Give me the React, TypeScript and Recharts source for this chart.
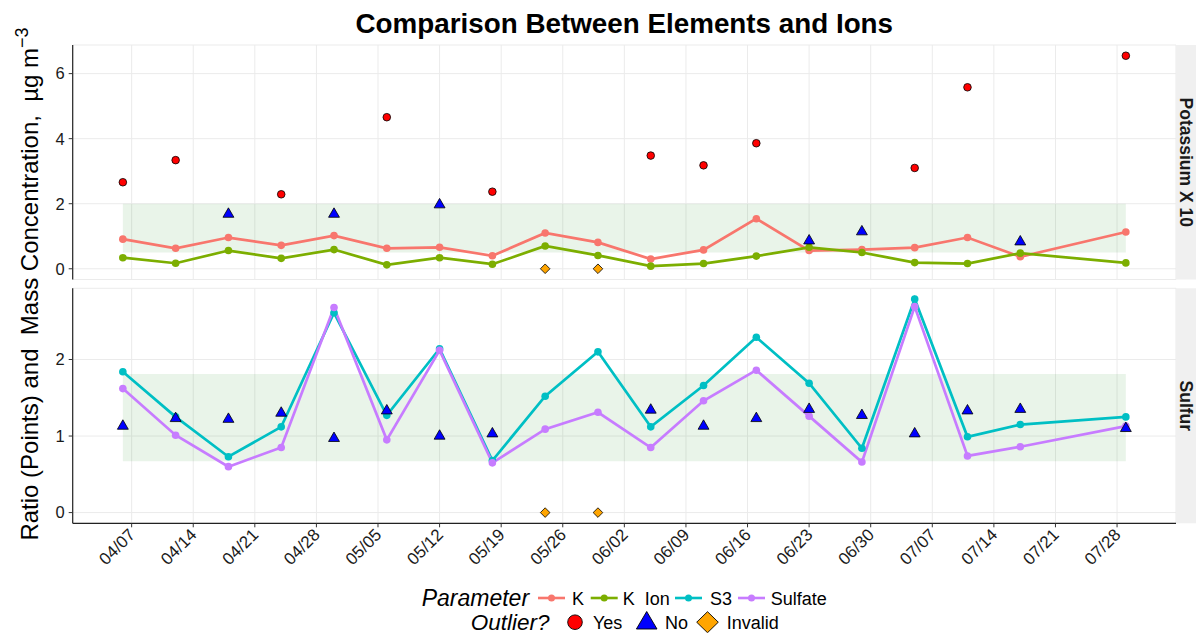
import React from 'react';
import { ComposedChart, Line, Scatter, XAxis, YAxis, CartesianGrid, ReferenceArea } from 'recharts';

// sample dates (every 6 days, 07/23 missing)
const sampleDates = ['04/06', '04/12', '04/18', '04/24', '04/30', '05/06', '05/12', '05/18', '05/24', '05/30', '06/05', '06/11', '06/17', '06/23', '06/29', '07/05', '07/11', '07/17', '07/29'];

// Potassium X 10 panel
const kValues = [0.91, 0.63, 0.96, 0.72, 1.02, 0.63, 0.66, 0.40, 1.10, 0.81, 0.30, 0.58, 1.54, 0.56, 0.59, 0.65, 0.96, 0.37, 1.13];
const kIonValues = [0.34, 0.17, 0.56, 0.32, 0.59, 0.12, 0.34, 0.14, 0.70, 0.41, 0.08, 0.16, 0.39, 0.66, 0.50, 0.19, 0.16, 0.48, 0.18];
const kRatio = [2.66, 3.34, 1.68, 2.29, 1.68, 4.66, 1.97, 2.37, 0, 0, 3.48, 3.18, 3.86, 0.86, 1.14, 3.10, 5.58, 0.83, 6.55];
const kOutlier = ['Yes', 'Yes', 'No', 'Yes', 'No', 'Yes', 'No', 'Yes', 'Invalid', 'Invalid', 'Yes', 'Yes', 'Yes', 'No', 'No', 'Yes', 'Yes', 'No', 'Yes'];

// Sulfur panel
const s3Values = [1.84, 1.25, 0.73, 1.12, 2.61, 1.27, 2.14, 0.68, 1.52, 2.10, 1.12, 1.66, 2.29, 1.69, 0.84, 2.79, 0.99, 1.15, 1.25];
const sulfateValues = [1.62, 1.01, 0.60, 0.85, 2.68, 0.95, 2.12, 0.65, 1.09, 1.31, 0.85, 1.46, 1.86, 1.26, 0.66, 2.69, 0.74, 0.86, 1.13];
const sRatio = [1.13, 1.23, 1.22, 1.30, 0.97, 1.33, 1.00, 1.03, 0, 0, 1.34, 1.13, 1.23, 1.35, 1.27, 1.03, 1.33, 1.35, 1.10];
const sOutlier = ['No', 'No', 'No', 'No', 'No', 'No', 'No', 'No', 'Invalid', 'Invalid', 'No', 'No', 'No', 'No', 'No', 'No', 'No', 'No', 'No'];

// acceptable ranges (shaded)
const kBand = [0.5, 2.0];
const sBand = [0.67, 1.81];

const tickLabels = ['04/07', '04/14', '04/21', '04/28', '05/05', '05/12', '05/19', '05/26', '06/02', '06/09', '06/16', '06/23', '06/30', '07/07', '07/14', '07/21', '07/28'];

const COLORS = { K: '#F8766D', KIon: '#7CAE00', S3: '#00BFC4', Sulfate: '#C77CFF' };
const FONT = '"Liberation Sans", Arial, Helvetica, sans-serif';

const monthStart: Record<string, number> = { '04': 0, '05': 30, '06': 61, '07': 91, '08': 122 };
const dayOf = (d: string) => monthStart[d.slice(0, 2)] + Number(d.slice(3)) - 6;

const tickDays = tickLabels.map(dayOf);
const firstDay = dayOf(sampleDates[0]);
const lastDay = dayOf(sampleDates[sampleDates.length - 1]);
const pad = (lastDay - firstDay) * 0.05;
const xDomain = [firstDay - pad, lastDay + pad];
const labelOf = (d: number) => tickLabels[tickDays.indexOf(d)] ?? '';

const series = (vals: number[]) => sampleDates.map((d, i) => ({ x: dayOf(d), y: vals[i] }));
const outliers = (vals: number[], flags: string[], flag: string) =>
  sampleDates.map((d, i) => ({ x: dayOf(d), y: vals[i], flag: flags[i] })).filter((p) => p.flag === flag);

const Circle = (props: any) => (
  <circle cx={props.cx} cy={props.cy} r={3.8} fill="#FF0000" stroke="#000" strokeWidth={0.8} />
);
const Triangle = (props: any) => {
  const { cx, cy } = props;
  const r = 6.3;
  return (
    <polygon
      points={`${cx},${cy - r} ${cx + r * 0.866},${cy + r / 2} ${cx - r * 0.866},${cy + r / 2}`}
      fill="#0000FF"
      stroke="#000"
      strokeWidth={0.8}
    />
  );
};
const Diamond = (props: any) => {
  const { cx, cy } = props;
  const r = 4.8;
  return (
    <polygon
      points={`${cx},${cy - r} ${cx + r},${cy} ${cx},${cy + r} ${cx - r},${cy}`}
      fill="#FFA500"
      stroke="#000"
      strokeWidth={0.8}
    />
  );
};

// rotated date labels, top-right corner at the tick
const DateTick = (props: any) => {
  const { x, y, payload } = props;
  const ax = x - 4;
  const ay = y - 2;
  return (
    <text
      x={ax}
      y={ay}
      dy="0.71em"
      textAnchor="end"
      transform={`rotate(-45 ${ax} ${ay})`}
      fontSize={17}
      fontFamily={FONT}
      fill="#1a1a1a"
    >
      {labelOf(payload.value)}
    </text>
  );
};

const lineProps = (color: string) => ({
  type: 'linear' as const,
  dataKey: 'y',
  stroke: color,
  strokeWidth: 2.7,
  dot: { r: 3.8, fill: color, stroke: color, strokeWidth: 0 },
  activeDot: false as const,
  isAnimationActive: false,
});

const gridColor = '#EBEBEB';
const bandFill = '#008000';
const tickStyle = { fontSize: 16.5, fontFamily: FONT, fill: '#1a1a1a' };

const App: React.FC = () => {
  return (
    <div style={{ position: 'absolute', left: 0, top: 0, width: 1196, height: 633, background: '#fff', overflow: 'hidden' }}>
      {/* top panel: Potassium X 10 */}
      <div style={{ position: 'absolute', left: 0, top: 0 }}>
        <ComposedChart width={1196} height={633} margin={{ top: 45, right: 20, bottom: 353.5, left: 0 }}>
          <CartesianGrid stroke={gridColor} strokeWidth={1} />
          <XAxis type="number" dataKey="x" domain={xDomain} ticks={tickDays} allowDataOverflow hide interval={0} />
          <YAxis
            type="number"
            domain={[-0.33, 6.88]}
            ticks={[0, 2, 4, 6]}
            allowDataOverflow
            width={72.7}
            tick={tickStyle}
            tickSize={4}
            tickMargin={4}
            axisLine={{ stroke: '#222', strokeWidth: 1.2 }}
            tickLine={{ stroke: '#333' }}
          />
          <ReferenceArea x1={firstDay} x2={lastDay} y1={kBand[0]} y2={kBand[1]} fill={bandFill} fillOpacity={0.085} stroke="none" />
          <Line data={series(kValues)} name="K" {...lineProps(COLORS.K)} />
          <Line data={series(kIonValues)} name="K  Ion" {...lineProps(COLORS.KIon)} />
          <Scatter data={outliers(kRatio, kOutlier, 'Yes')} dataKey="y" shape={Circle} isAnimationActive={false} />
          <Scatter data={outliers(kRatio, kOutlier, 'No')} dataKey="y" shape={Triangle} isAnimationActive={false} />
          <Scatter data={outliers(kRatio, kOutlier, 'Invalid')} dataKey="y" shape={Diamond} isAnimationActive={false} />
        </ComposedChart>
      </div>

      {/* bottom panel: Sulfur */}
      <div style={{ position: 'absolute', left: 0, top: 0 }}>
        <ComposedChart width={1196} height={633} margin={{ top: 288.3, right: 20, bottom: 79.7, left: 0 }}>
          <CartesianGrid stroke={gridColor} strokeWidth={1} />
          <XAxis
            type="number"
            dataKey="x"
            domain={xDomain}
            ticks={tickDays}
            allowDataOverflow
            interval={0}
            height={30}
            tick={<DateTick />}
            tickSize={4}
            tickMargin={2}
            axisLine={{ stroke: '#222', strokeWidth: 1.2 }}
            tickLine={{ stroke: '#333' }}
          />
          <YAxis
            type="number"
            domain={[-0.14, 2.93]}
            ticks={[0, 1, 2]}
            allowDataOverflow
            width={72.7}
            tick={tickStyle}
            tickSize={4}
            tickMargin={4}
            axisLine={{ stroke: '#222', strokeWidth: 1.2 }}
            tickLine={{ stroke: '#333' }}
          />
          <ReferenceArea x1={firstDay} x2={lastDay} y1={sBand[0]} y2={sBand[1]} fill={bandFill} fillOpacity={0.085} stroke="none" />
          <Line data={series(s3Values)} name="S3" {...lineProps(COLORS.S3)} />
          <Line data={series(sulfateValues)} name="Sulfate" {...lineProps(COLORS.Sulfate)} />
          <Scatter data={outliers(sRatio, sOutlier, 'Yes')} dataKey="y" shape={Circle} isAnimationActive={false} />
          <Scatter data={outliers(sRatio, sOutlier, 'No')} dataKey="y" shape={Triangle} isAnimationActive={false} />
          <Scatter data={outliers(sRatio, sOutlier, 'Invalid')} dataKey="y" shape={Diamond} isAnimationActive={false} />
        </ComposedChart>
      </div>

      {/* titles, strips and legend */}
      <svg width={1196} height={633} style={{ position: 'absolute', left: 0, top: 0, pointerEvents: 'none' }} fontFamily={FONT}>
        <text x={624.3} y={33} textAnchor="middle" fontSize={27.8} fontWeight="bold" fill="#000">
          Comparison Between Elements and Ions
        </text>
        <text
          x={38.3}
          y={284}
          textAnchor="middle"
          fontSize={24}
          fill="#000"
          transform="rotate(-90 38.3 284)"
          style={{ whiteSpace: 'pre' }}
        >
          {'Ratio (Points) and  Mass Concentration,  µg m'}
          <tspan dy="-0.55em" fontSize={18}>−3</tspan>
        </text>

        <rect x={1176} y={45} width={22} height={234.5} fill="#F0F0F0" />
        <text x={1180} y={162.3} textAnchor="middle" fontSize={17.5} fontWeight="bold" fill="#1a1a1a" transform="rotate(90 1180 162.3)">
          Potassium X 10
        </text>
        <rect x={1176} y={288.3} width={22} height={235} fill="#F0F0F0" />
        <text x={1180} y={405.8} textAnchor="middle" fontSize={17.5} fontWeight="bold" fill="#1a1a1a" transform="rotate(90 1180 405.8)">
          Sulfur
        </text>

        {/* legend row 1 */}
        <text x={421.7} y={606} fontSize={23} fontStyle="italic" fill="#000">Parameter</text>
        {[
          { key: 538, text: 572, label: 'K', color: COLORS.K },
          { key: 590.7, text: 622.7, label: 'K  Ion', color: COLORS.KIon },
          { key: 675, text: 710, label: 'S3', color: COLORS.S3 },
          { key: 738, text: 770.7, label: 'Sulfate', color: COLORS.Sulfate },
        ].map((d) => (
          <g key={d.label}>
            <line x1={d.key} x2={d.key + 27} y1={598} y2={598} stroke={d.color} strokeWidth={2.6} />
            <circle cx={d.key + 13.5} cy={598} r={3.5} fill={d.color} />
            <text x={d.text} y={604.5} fontSize={18} fill="#000" style={{ whiteSpace: 'pre' }}>{d.label}</text>
          </g>
        ))}

        {/* legend row 2 */}
        <text x={470.7} y={629.5} fontSize={22.5} fontStyle="italic" fill="#000">Outlier?</text>
        <circle cx={575} cy={622.2} r={7.3} fill="#FF0000" stroke="#000" strokeWidth={0.9} />
        <text x={593} y={628.7} fontSize={18} fill="#000">Yes</text>
        <polygon points="646.7,611.5 657,629 636.4,629" fill="#0000FF" stroke="#000" strokeWidth={0.9} />
        <text x={665} y={628.7} fontSize={18} fill="#000">No</text>
        <polygon points="707.5,611.7 718.3,622.2 707.5,632.7 696.7,622.2" fill="#FFA500" stroke="#000" strokeWidth={0.9} />
        <text x={726.7} y={628.7} fontSize={18} fill="#000">Invalid</text>
      </svg>
    </div>
  );
};

export default App;
